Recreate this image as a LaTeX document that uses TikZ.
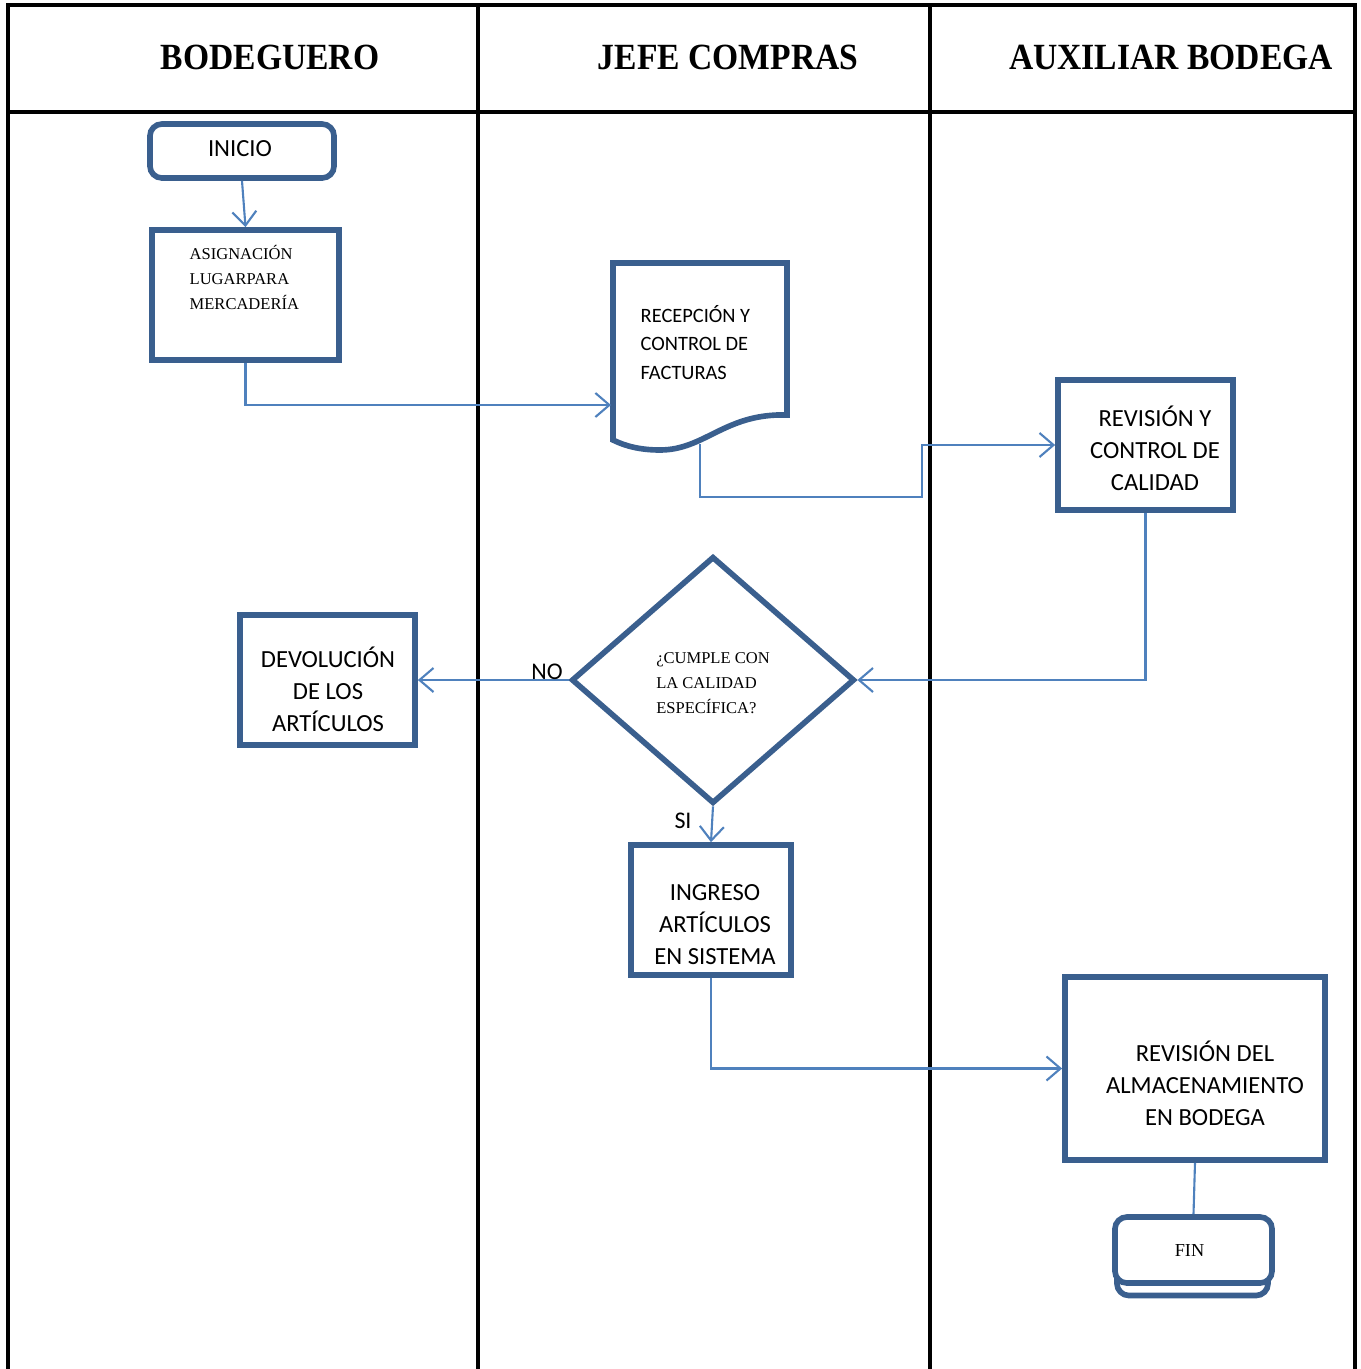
\documentclass[tikz,border=0pt]{standalone}
\usepackage{fontspec}
\setmainfont{Liberation Serif}
\newfontfamily\calib{Carlito}
\usetikzlibrary{arrows.meta,shapes.geometric}
\definecolor{boxblue}{RGB}{58,95,142}
\definecolor{linkblue}{RGB}{79,129,189}
\newcommand\lanename[1]{\scalebox{0.91}[1]{#1}}
\begin{document}
\begin{tikzpicture}[x=0.01cm,y=-0.01cm,
    lane/.style={draw=black,line width=1pt},
    lanetitle/.style={font=\fontsize{10.5}{12}\selectfont\bfseries},
    procbox/.style={draw=boxblue,line width=1.6pt,fill=white,align=center,
        font=\calib\fontsize{7}{9.1}\selectfont},
    termbox/.style={procbox,rounded corners=0.12cm},
    boxtext/.style={align=center,font=\calib\fontsize{7}{9.1}\selectfont},
    serifnote/.style={align=left,inner sep=0pt,font=\fontsize{4.7}{7.1}\selectfont},
    flow/.style={draw=linkblue,line width=0.6pt,-{Straight Barb[length=1.4mm,width=2.4mm]}},
    tag/.style={font=\calib\fontsize{6.8}{8}\selectfont}]
    \useasboundingbox (0,0) rectangle (1361,1369);
    % swimlanes
    \draw[lane] (8,1369) -- (8,5) -- (1355,5) -- (1355,1369);
    \draw[lane] (8,112) -- (1355,112);
    \draw[lane] (478,5) -- (478,1369);
    \draw[lane] (930,5) -- (930,1369);
    \node[lanetitle] (tbod) at (270,57) {\lanename{BODEGUERO}};
    \node[lanetitle] (tjef) at (728,57) {\lanename{JEFE COMPRAS}};
    \node[lanetitle] (taux) at (1171,57) {\lanename{AUXILIAR BODEGA}};
    % nodes
    \node[termbox,minimum width=1.84cm,minimum height=0.54cm] (ini) at (242,151) {};
    \node[boxtext] (initxt) at (240,149) {INICIO};
    \node[procbox,minimum width=1.87cm,minimum height=1.3cm] (asig) at (245.5,295) {};
    \node[serifnote,anchor=north west] (asigtxt) at (189,245)
        {ASIGNACIÓN\\LUGARPARA\\MERCADERÍA};
    \draw[draw=boxblue,line width=1.6pt,fill=white,line join=miter]
        (613,263) -- (787,263) -- (787,415)
        .. controls (725,413) and (705,450) .. (660,450)
        .. controls (640,450) and (625,446) .. (613,440) -- cycle;
    \node[align=left,inner sep=0pt,anchor=north west,
        font=\calib\fontsize{5.8}{8}\selectfont] (recep) at (640,305)
        {RECEPCIÓN Y\\CONTROL DE\\FACTURAS};
    \coordinate (recepin) at (611,405);
    \coordinate (recepout) at (700,444);
    \node[procbox,minimum width=1.75cm,minimum height=1.3cm] (rev) at (1145.5,445) {};
    \node[boxtext] (revtxt) at (1155,448) {REVISIÓN Y\\CONTROL DE\\CALIDAD};
    \node[diamond,draw=boxblue,line width=1.6pt,fill=white,inner sep=0pt,
        minimum width=2.83cm,minimum height=2.47cm] (dia) at (713,680) {};
    \node[serifnote] (diatxt) at (713,683)
        {¿CUMPLE CON\\LA CALIDAD\\ESPECÍFICA?};
    \node[procbox,minimum width=1.75cm,minimum height=1.3cm] (dev) at (327.5,680) {};
    \node[boxtext] (devtxt) at (328,689) {DEVOLUCIÓN\\DE LOS\\ARTÍCULOS};
    \node[procbox,minimum width=1.6cm,minimum height=1.3cm] (ing) at (711,910) {};
    \node[boxtext] (ingtxt) at (715,925) {INGRESO\\ARTÍCULOS\\EN SISTEMA};
    \node[procbox,minimum width=2.6cm,minimum height=1.83cm] (alm) at (1195,1068.5) {};
    \node[boxtext] (almtxt) at (1205,1083) {REVISIÓN DEL\\ALMACENAMIENTO\\EN BODEGA};
    \node[termbox,minimum width=1.51cm,minimum height=0.55cm] (finbase) at (1192.5,1268) {};
    \node[termbox,minimum width=1.57cm,minimum height=0.66cm,
        font=\fontsize{5.2}{6}\selectfont] (fin) at (1193.5,1250) {\hspace*{-0.08cm}FIN};
    % connectors
    \draw[flow] (ini.south) -- (asig.north);
    \draw[flow] (asig.south) |- (recepin);
    \coordinate (bend) at (922,497);
    \draw[flow] (recepout) |- (bend) |- (rev.west);
    \draw[flow] (rev.south) |- (dia.east);
    \draw[flow] (dia.west) -- (dev.east);
    \node[tag] (no) at (547,672) {NO};
    \draw[flow] (dia.south) -- (ing.north);
    \node[tag] (si) at (683,821) {SI};
    \draw[flow] (ing.south) |- (alm.west);
    \draw[draw=linkblue,line width=0.6pt] (alm.south) -- (fin.north);
\end{tikzpicture}
\end{document}
